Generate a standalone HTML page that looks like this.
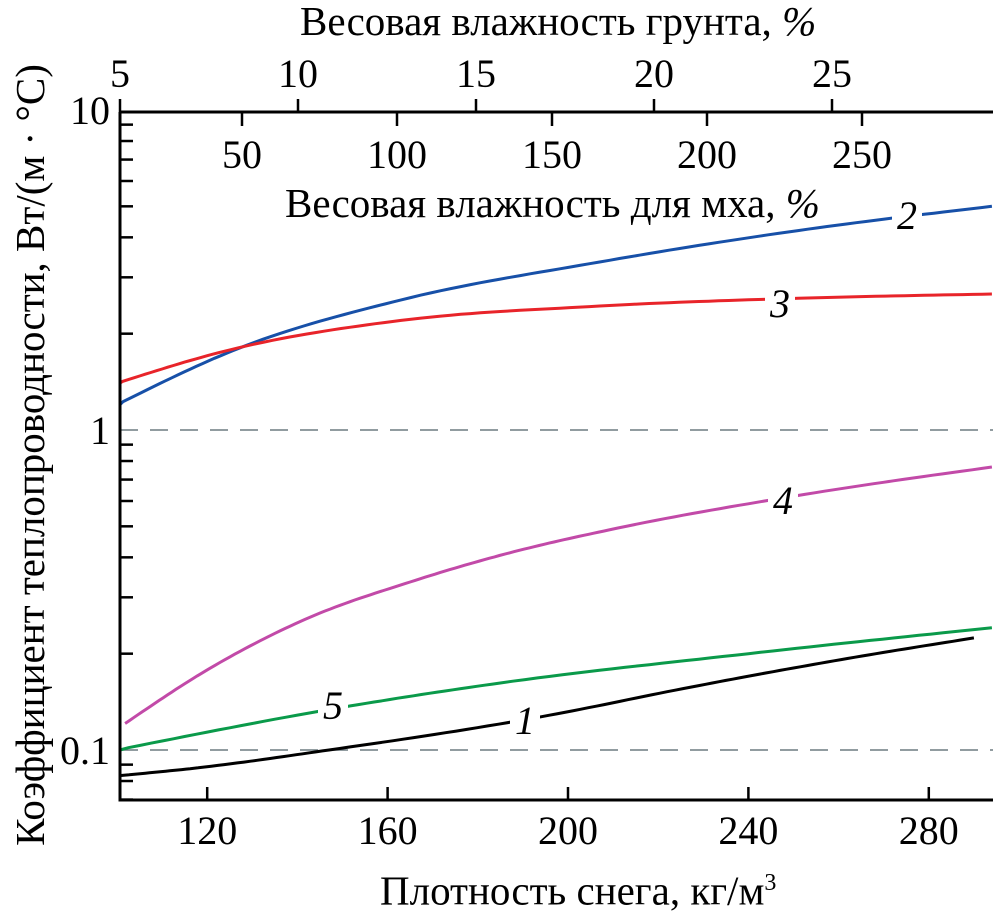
<!DOCTYPE html>
<html><head><meta charset="utf-8"><style>
body{margin:0;background:#fff}
svg{display:block;font-family:"Liberation Serif",serif}
</style></head><body>
<svg id="c" width="996" height="910" viewBox="0 0 996 910"></svg>
<script>
const categories=["1","2","3","4","5"];
const s2x=[100,127,163,207,251,294], s2y=[1.2,1.8,2.55,3.35,4.2,5.0];
const s3x=[100,125,163,207,251,294], s3y=[1.4,1.78,2.2,2.44,2.58,2.66];
const s4x=[101.8,120.6,142.8,165,187,209,250.3,294], s4y=[0.121,0.18,0.26,0.335,0.413,0.487,0.622,0.766];
const s5x=[100,150,185,240,294], s5y=[0.1,0.136,0.162,0.2,0.241];
const s1x=[100,118,147,194,229,259,290], s1y=[0.083,0.088,0.1,0.127,0.159,0.19,0.224];
const xTicks=[120,160,200,240,280];
const yTicks=[0.1,1,10];
const soilTicks=[5,10,15,20,25];
const mossTicks=[50,100,150,200,250];
const NS="http://www.w3.org/2000/svg", svg=document.getElementById('c');
const L=120,R=993,T=112,B=800;
const X=d=>117+(d-100)*4.51;
const Y=v=>430-320*Math.log10(v);
const XS=s=>120+(s-5)*35.6;
const XM=m=>87+m*3.1;
function el(t,a,txt){const e=document.createElementNS(NS,t);for(const k in a)e.setAttribute(k,a[k]);if(txt!==undefined)e.textContent=txt;svg.appendChild(e);return e;}
function curve(xs,ysv){const ys=ysv.map(v=>Math.log10(v));const n=xs.length;const d=[],m=[];
for(let i=0;i<n-1;i++)d.push((ys[i+1]-ys[i])/(xs[i+1]-xs[i]));
for(let i=1;i<n-1;i++){const w1=xs[i+1]-xs[i],w0=xs[i]-xs[i-1];m[i]=d[i-1]*d[i]<=0?0:(w1*d[i-1]+w0*d[i])/(w0+w1);}
if(n>2){m[0]=(3*d[0]-m[1])/2;m[n-1]=(3*d[n-2]-m[n-2])/2;}else{m[0]=d[0];m[1]=d[0];}
let s='';
for(let i=0;i<n-1;i++){const h=xs[i+1]-xs[i];for(let k=0;k<=20;k++){if(i>0&&k==0)continue;const t=k/20;
const h00=2*t*t*t-3*t*t+1,h10=t*t*t-2*t*t+t,h01=-2*t*t*t+3*t*t,h11=t*t*t-t*t;
const y=h00*ys[i]+h10*h*m[i]+h01*ys[i+1]+h11*h*m[i+1];const xx=xs[i]+t*h;
s+=(s?' L':'M')+Math.max(X(xx),L).toFixed(1)+','+Y(Math.pow(10,y)).toFixed(1);}}
return s;}
[0.1,1].forEach(v=>{const g=el('line',{x1:L,x2:R,y1:Y(v),y2:Y(v),stroke:'#6d7b80','stroke-width':1.5,'stroke-dasharray':'18,12'});

});
const series=[[s1x,s1y,'#000'],[s2x,s2y,'#1750a8'],[s3x,s3y,'#e8242a'],[s4x,s4y,'#c24aa8'],[s5x,s5y,'#0a9a4a']];
series.forEach((s,i)=>{const p=el('path',{d:curve(s[0],s[1]),fill:'none',stroke:s[2],'stroke-width':3});

});
[[525,720,'1'],[907,215,'2'],[780,303,'3'],[783,500,'4'],[333,705,'5']].forEach(l=>{
const b=el('rect',{x:l[0]-15,y:l[1]-19,width:30,height:36,fill:'#fff'});


const t=el('text',{x:l[0],y:l[1]+14,'font-size':40,'font-style':'italic','text-anchor':'middle'},l[2]);

});
const ax=el('path',{d:`M${L},${T} V${B} H${R} M${L},${T} H${R}`,fill:'none',stroke:'#000','stroke-width':3});


for(let e=-2;e<1;e++)for(let m=1;m<10;m++){const v=m*Math.pow(10,e);if(v<0.07||v>10)continue;
const t=el('line',{x1:L,x2:L+(m==1?0:13),y1:Y(v),y2:Y(v),stroke:'#000','stroke-width':2.5});

}
yTicks.forEach(v=>{const t=el('text',{x:L-10,y:Y(v)+14,'font-size':40,'text-anchor':'end'},String(v));

});
xTicks.forEach(d=>{const t=el('line',{x1:X(d),x2:X(d),y1:B,y2:B-13,stroke:'#000','stroke-width':2.5});


const l=el('text',{x:X(d),y:B+44,'font-size':40,'text-anchor':'middle'},String(d));

});
soilTicks.forEach(s=>{const t=el('line',{x1:XS(s),x2:XS(s),y1:T,y2:T-13,stroke:'#000','stroke-width':2.5});


const l=el('text',{x:XS(s),y:87,'font-size':40,'text-anchor':'middle'},String(s));

});
mossTicks.forEach(m=>{const t=el('line',{x1:XM(m),x2:XM(m),y1:T,y2:T+14,stroke:'#000','stroke-width':2.5});


const l=el('text',{x:XM(m),y:168,'font-size':40,'text-anchor':'middle'},String(m));

});
</script>
<div style="position:absolute;left:0;top:0;width:996px;height:910px;pointer-events:none;font-family:'Liberation Serif','Noto Serif CJK SC',serif">
<div style="position:absolute;left:300px;top:-2px;font-size:41px;line-height:46px;white-space:nowrap">Весовая влажность грунта, <i>%</i></div>
<div style="position:absolute;left:285px;top:180px;font-size:41px;line-height:46px;white-space:nowrap">Весовая влажность для мха, <i>%</i></div>
<div style="position:absolute;left:380px;top:860px;font-size:41px;line-height:46px;white-space:nowrap">Плотность снега, кг/м<sup style="font-size:24px">3</sup></div>
<div style="position:absolute;left:30px;top:455px;transform:translate(-50%,-50%) rotate(-90deg);white-space:nowrap;font-size:41px;line-height:46px">Коэффициент теплопроводности, Вт/(м · °С)</div>
</div>
</body></html>
